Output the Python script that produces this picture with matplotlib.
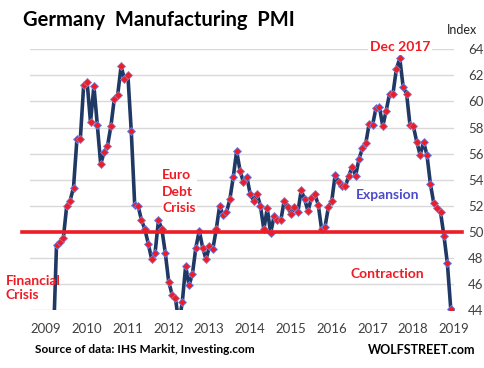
import numpy as np
import matplotlib
matplotlib.use("Agg")
import matplotlib.pyplot as plt

plt.rcParams['font.family'] = ['Lato', 'DejaVu Sans']

# monthly Germany manufacturing PMI, Jun 2009 .. Mar 2019
start_month = 5  # months after Jan 2009
pmi_2009 = [41.0, 49.0, 49.2, 49.5, 52.0, 52.4, 53.4]
pmi_2010 = [57.1, 57.1, 61.3, 61.5, 58.4, 61.2, 58.2, 55.2, 56.1, 56.6, 58.1, 60.2]
pmi_2011 = [60.5, 62.7, 61.7, 62.0, 57.7, 52.1, 52.0, 50.9, 50.2, 49.1, 47.9, 48.4]
pmi_2012 = [50.9, 50.2, 48.4, 46.2, 45.2, 44.9, 43.0, 44.6, 47.4, 45.9, 46.8, 48.8]
pmi_2013 = [50.1, 48.8, 47.9, 48.9, 48.7, 50.2, 52.0, 51.3, 51.5, 52.5, 54.2, 56.2]
pmi_2014 = [54.7, 53.8, 54.2, 52.9, 52.4, 52.9, 52.0, 50.2, 51.8, 49.9, 51.2, 50.9]
pmi_2015 = [50.9, 52.4, 51.9, 51.4, 51.9, 51.5, 53.2, 52.5, 51.6, 52.6, 52.9, 52.1]
pmi_2016 = [50.2, 50.4, 51.9, 52.4, 54.4, 53.8, 53.5, 53.5, 54.3, 55.0, 54.3, 55.6]
pmi_2017 = [56.4, 56.8, 58.3, 58.2, 59.5, 59.6, 58.1, 59.3, 60.6, 60.6, 62.5, 63.3]
pmi_2018 = [61.1, 60.6, 58.2, 58.1, 56.9, 55.9, 56.9, 55.9, 53.7, 52.2, 51.8, 51.5]
pmi_2019 = [49.7, 47.6, 44.1]

years = list(range(2009, 2020))
yticks = list(range(44, 65, 2))

pmi = (pmi_2009 + pmi_2010 + pmi_2011 + pmi_2012 + pmi_2013 + pmi_2014
       + pmi_2015 + pmi_2016 + pmi_2017 + pmi_2018 + pmi_2019)
months = np.arange(start_month, start_month + len(pmi))

RED = '#ee1c25'
NAVY = '#1f3864'

fig = plt.figure(figsize=(4.84, 3.68), dpi=100)
ax = fig.add_axes([0.062, 0.157, 0.876, 0.709])

ax.plot(months, pmi, color=NAVY, linewidth=2.6, zorder=3,
        marker='D', markersize=3.6, markerfacecolor=RED,
        markeredgecolor='#7083e4', markeredgewidth=0.6)

ax.axhline(50, xmin=-0.018, xmax=1.02, color=RED, linewidth=2.6,
           clip_on=False, zorder=4)

ax.set_ylim(44, 64)
ax.set_xlim(-1.8, 122.9)
ax.set_yticks(yticks)
ax.yaxis.tick_right()
ax.grid(axis='y', color='#d9d9d9', linewidth=1)
ax.set_axisbelow(True)
ax.set_xticks([12 * i + 2.95 for i in range(len(years))])
ax.set_xticklabels([str(y) for y in years])
ax.tick_params(axis='both', length=0, labelsize=9.5, colors='#404040')
ax.tick_params(axis='y', pad=10)
ax.tick_params(axis='x', pad=9)
for s in ax.spines.values():
    s.set_visible(False)

fig.text(0.048, 0.945, 'Germany  Manufacturing  PMI', fontsize=14.5,
         fontweight='bold', ha='left', va='center')
fig.text(0.985, 0.918, 'Index', fontsize=9, ha='right', va='center',
         color='#222222')

ax.text(107.1, 64.18, 'Dec 2017', color=RED, fontsize=10, fontweight='bold',
        ha='center', va='center', zorder=5,
        bbox=dict(facecolor='white', edgecolor='none', pad=1.5))
ax.text(37.1, 53.1, 'Euro\nDebt\nCrisis', color=RED, fontsize=10,
        fontweight='bold', ha='left', va='center', linespacing=1.45, zorder=2,
        bbox=dict(facecolor='white', edgecolor='none', pad=0.5))
ax.text(103.5, 52.87, 'Expansion', color='#4b4bcc', fontsize=10,
        fontweight='bold', ha='center', va='center')
ax.text(103.2, 46.8, 'Contraction', color=RED, fontsize=10,
        fontweight='bold', ha='center', va='center')
fig.text(0.012, 0.217, 'Financial\nCrisis', color=RED, fontsize=10,
         fontweight='bold', ha='left', va='center', linespacing=1.2)

fig.text(0.072, 0.049, 'Source of data: IHS Markit, Investing.com', fontsize=8.6,
         fontweight='bold', ha='left', va='center')
fig.text(0.982, 0.049, 'WOLFSTREET.com', fontsize=9, fontweight='bold',
         ha='right', va='center')

fig.savefig('out.png', dpi=100)
